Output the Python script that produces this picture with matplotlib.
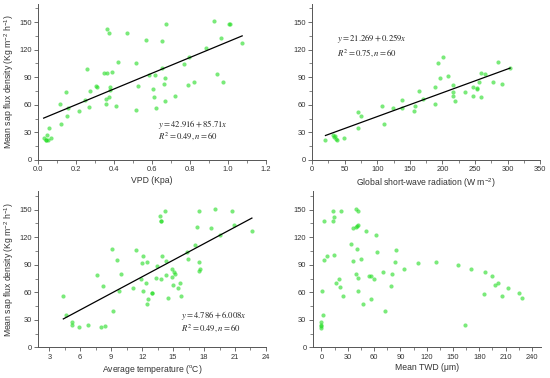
import matplotlib
matplotlib.use('Agg')
import matplotlib.pyplot as plt
import numpy as np
from matplotlib.ticker import MultipleLocator

plt.rcParams['font.family'] = ['Liberation Sans', 'DejaVu Sans']
plt.rcParams['mathtext.fontset'] = 'custom'
plt.rcParams['mathtext.rm'] = 'Liberation Sans'
plt.rcParams['mathtext.it'] = 'Liberation Sans:italic'

# sap flux (shared y label)
YLABEL = 'Mean sap flux density (Kg m$^{-2}$ h$^{-1}$)'

# panel a: VPD
vpd_x = [0.03, 0.04, 0.044, 0.047, 0.053, 0.06, 0.07, 0.116, 0.12, 0.15, 0.155, 0.158,
         0.216, 0.248, 0.26, 0.267, 0.276, 0.307, 0.313, 0.35, 0.364, 0.357, 0.36, 0.365,
         0.376, 0.372, 0.38, 0.38, 0.388, 0.41, 0.423, 0.467, 0.516, 0.518, 0.529, 0.57,
         0.583, 0.603, 0.611, 0.617, 0.62, 0.653, 0.655, 0.666, 0.67, 0.67, 0.673, 0.72,
         0.771, 0.794, 0.792, 0.822, 0.882, 0.926, 0.942, 0.965, 0.973, 1.008, 1.01, 1.075]
vpd_y = [23.5, 21.7, 22, 27, 21.7, 35, 24, 61, 39, 74, 47.5, 56,
         53, 65, 99, 58, 75, 80, 79, 95, 95, 66, 61, 143,
         138, 69, 79, 76, 96, 59, 107, 138, 106, 54, 80, 131,
         92, 77, 68, 92, 56, 130, 100, 83, 89, 64.5, 148, 69.5,
         104, 112, 82, 85, 122, 151, 93, 133, 85, 148, 148, 127]

# panel b: global short-wave radiation
rad_x = [20.5, 32.3, 33.4, 34.5, 36, 38.5, 49, 71, 70, 75, 107, 110, 124, 138, 138,
         157, 158.5, 164, 170, 188, 188, 194, 196.5, 201.6, 208, 216.5, 216, 216.5, 219,
         235, 247, 247, 253, 253.5, 255.5, 259.6, 259.6, 265, 278, 286, 292, 304]
rad_y = [21.7, 27, 24.6, 25.5, 22.8, 21.7, 24, 52.5, 35, 47.5, 58.7, 39, 56, 65, 56,
         53.6, 58.3, 75.4, 66.3, 79, 61, 106, 89, 112, 91.7, 82, 74, 69.6, 64,
         74, 79, 70, 78, 77, 85, 95, 68, 93, 85, 106.5, 82.6, 99.6]

# panel c: average temperature
tmp_x = [4.36, 4.59, 5.17, 5.17, 5.91, 6.79, 7.63, 7.98, 8.24, 8.37, 9.12, 9.15, 9.6,
         9.73, 9.93, 11.16, 11.39, 11.9, 12.06, 12.03, 12.06, 12.35, 12.48, 12.55, 12.48,
         13.0, 13.0, 13.36, 13.45, 13.71, 13.87, 13.87, 13.87, 13.9, 14.26, 14.3, 14.3,
         14.55, 14.9, 14.9, 15.0, 15.1, 15.14, 15.46, 15.69, 15.78, 16.33, 16.43, 17.17,
         17.3, 17.5, 17.53, 17.56, 17.6, 18.7, 19.08, 19.54, 20.67, 20.93, 22.64]
tmp_y = [56, 35, 27.5, 24.3, 21.7, 24.6, 78.6, 22, 66.7, 23.5, 107, 39.9, 95,
         61, 80, 65, 105.8, 75, 99.3, 92, 61.6, 70, 92.8, 52.5, 47.5,
         59, 59, 75.4, 89, 142.8, 137.7, 137.7, 74, 100, 148.6, 94.6, 79,
         54, 85, 77, 68, 82, 79.7, 64.5, 70, 56, 104, 96, 112,
         131, 148.6, 83, 93, 85, 130, 151, 122.5, 148.6, 133, 127]

# panel d: mean TWD
twd_x = [0, 0, 0, 0, 1.1, 1.9, 3, 3.4, 6, 13.3, 13.3, 14.8, 14.8, 17, 19.7, 21.2, 22.7,
         24.3, 33.7, 36.4, 36.4, 39.4, 39.8, 41, 41.4, 42.2, 41, 39.8, 41.7, 41.7, 45,
         47.8, 50.8, 54.6, 56.5, 56.5, 59.5, 61.8, 63.3, 70, 72.4, 79.6, 80.4, 83.4, 85,
         93.7, 110.3, 130.8, 155.8, 163.8, 170.2, 185.4, 187, 194, 198.4, 201.3, 212.3,
         206.3, 225.2, 228.6]
twd_y = [27.5, 24.6, 22.8, 21.4, 61, 35.5, 137.7, 95, 99.3, 148, 137.7, 142.4, 100.7,
         70, 74, 65.6, 148, 56, 112.3, 130.4, 94.6, 150.7, 131, 132.6, 133.3, 148.5, 106.9,
         80, 75.4, 61.6, 96.4, 47.5, 126.8, 78, 78, 52.5, 74.6, 122.5, 104.3, 82.6, 39.9,
         66.3, 80, 93, 105.8, 85, 91.7, 92.8, 89.5, 24, 85, 58.3, 82.2, 77.2, 68, 69.6,
         64.5, 56, 58.7, 54.3]

# regression coefficients (intercept, slope)
fit_a = (42.916, 85.71)
fit_b = (21.269, 0.259)
fit_c = (4.786, 6.008)

PT = '#22dd22'
GREY = '#333333'


def style(ax, xlim, xmaj, xmin, xlabel, ylabel=None):
    ax.set_xlim(*xlim)
    ax.set_ylim(0, 170)
    ax.xaxis.set_major_locator(MultipleLocator(xmaj))
    ax.xaxis.set_minor_locator(MultipleLocator(xmin))
    ax.yaxis.set_major_locator(MultipleLocator(30))
    ax.yaxis.set_minor_locator(MultipleLocator(15))
    ax.set_yticks([0, 30, 60, 90, 120, 150])
    for s in ['top', 'right']:
        ax.spines[s].set_visible(False)
    for s in ['left', 'bottom']:
        ax.spines[s].set_color('#555555')
        ax.spines[s].set_linewidth(0.7)
    ax.tick_params(which='major', length=3, width=0.6, color='#555555',
                   labelsize=5.4, labelcolor=GREY, pad=1.5)
    ax.tick_params(which='minor', length=2, width=0.5, color='#555555')
    ax.set_xlabel(xlabel, fontsize=6.2, color=GREY, labelpad=2)
    if ylabel:
        ax.set_ylabel(ylabel, fontsize=6.2, color=GREY, labelpad=2)


def fitline(ax, x, fit):
    xs = np.array([min(x), max(x)])
    ax.plot(xs, fit[0] + fit[1] * xs, color='black', lw=0.9)


def eqtext(ax, x, y1, y2, fit, r2):
    kw = dict(fontsize=6.2, math_fontfamily='stix', va='center', ha='left', color='#222222')
    ax.text(x, y1, r'$y = %s + %s x$' % (fit[0], fit[1]), **kw)
    ax.text(x, y2, r'$R^2 = %s, n = 60$' % r2, **kw)


fig = plt.figure(figsize=(5.5, 3.78), dpi=100)
W, H = 0.4145, 0.413
ax1 = fig.add_axes([0.069, 0.577, W, H])
ax2 = fig.add_axes([0.5675, 0.577, W, H])
ax3 = fig.add_axes([0.069, 0.081, W, H])
ax4 = fig.add_axes([0.5685, 0.081, W, H])

ax1.scatter(vpd_x, vpd_y, s=9, color=PT, alpha=0.6, linewidths=0)
fitline(ax1, vpd_x, fit_a)
eqtext(ax1, 0.63, 38, 25.5, fit_a, '0.49')
style(ax1, (0, 1.2), 0.2, 0.1, 'VPD (Kpa)', YLABEL)

ax2.scatter(rad_x, rad_y, s=9, color=PT, alpha=0.6, linewidths=0)
fitline(ax2, rad_x, fit_b)
eqtext(ax2, 38, 132, 116.5, fit_b, '0.75')
style(ax2, (0, 350), 50, 25, 'Global short-wave radiation (W m$^{-2}$)')

ax3.scatter(tmp_x, tmp_y, s=9, color=PT, alpha=0.6, linewidths=0)
fitline(ax3, tmp_x, fit_c)
eqtext(ax3, 15.75, 35, 21.5, fit_c, '0.49')
style(ax3, (1.9, 24), 3, 1.5, 'Average temperature ($^{\\mathrm{o}}$C)', YLABEL)

ax4.scatter(twd_x, twd_y, s=9, color=PT, alpha=0.6, linewidths=0)
style(ax4, (-10, 250), 30, 15, 'Mean TWD (\u03bcm)')

fig.savefig('out.png', dpi=100)
